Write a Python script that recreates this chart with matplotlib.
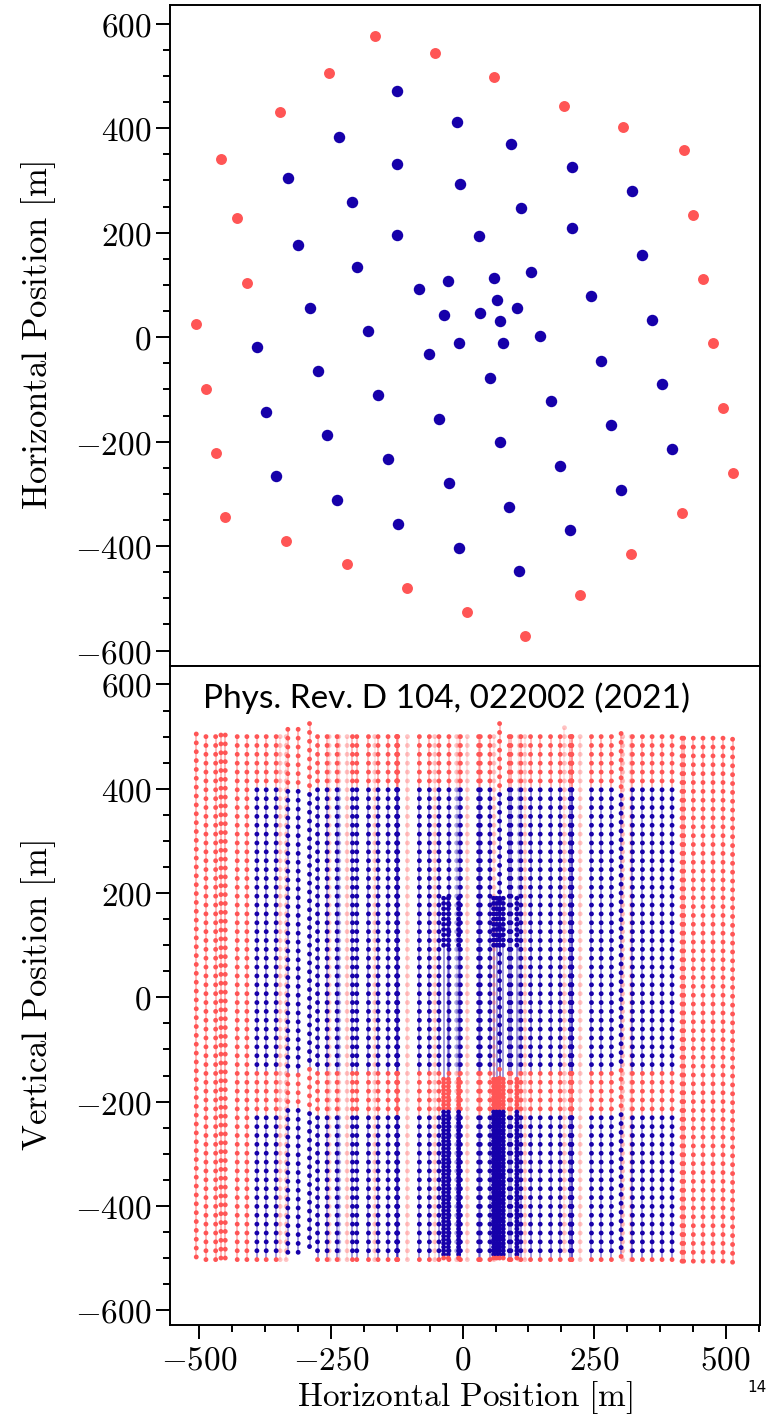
import numpy as np
import matplotlib.pyplot as plt
from matplotlib.collections import LineCollection
from matplotlib.ticker import MultipleLocator, AutoMinorLocator, FuncFormatter

plt.rcParams["mathtext.fontset"] = "cm"
plt.rcParams["font.family"] = "serif"

RED = "#ff5555"
BLUE = "#1600aa"

# ------------------------------------------------------------
# String positions [m]
# ------------------------------------------------------------

# outer (veto) strings
outer_x = [-167.0, -53.1, -253.7, -346.7, -459.2, -428.3, -409.9, -506.1,
           59.4, 193.5, 304.2, 419.9, 438.3, 456.7,
           -487.7, -469.3, -451.0, -335.3, -219.5, -104.9, 8.9,
           475.7, 494.7, 512.9, 416.9, 320.1, 223.3, 118.2]
outer_y = [576.4, 543.8, 506.0, 431.3, 340.6, 227.5, 103.5, 24.9,
           498.9, 442.2, 403.1, 357.9, 234.4, 111.2,
           -98.3, -221.0, -345.0, -389.7, -435.1, -480.5, -526.5,
           -12.1, -136.1, -259.3, -337.4, -415.4, -493.2, -571.2]
outer_top_z = [500, 500, 500, 500, 503, 500, 500, 505,
               500, 517, 500, 497, 497, 497,
               500, 500, 503, 500, 500, 500, 500,
               497, 497, 495, 497, 500, 500, 500]

# inner standard strings
inner_x = [-125.2, -11.4, -235.3, -125.2, -4.2, -332.1, -209.3, -124.7, -312.5, -201.1,
           -82.2, -290.9, -178.9, 91.7, 207.4, 322.6, 110.6, 207.4, 30.4, 341.6,
           129.0, 244.8, 33.6, 360.0, 147.4, -390.9, -63.2, -275.7, -160.7, -373.2,
           -45.0, -257.5, -141.7, -354.3, -26.0, -238.5, -123.3, -6.6, 263.2, 51.8,
           378.9, 167.0, 282.7, 70.2, 397.9, 185.4, 301.1, 88.6, 204.4, 107.6]
inner_y = [472.1, 411.5, 383.4, 331.0, 292.7, 304.8, 258.8, 195.5, 176.3, 133.6,
           91.4, 56.2, 12.5, 370.5, 325.3, 279.9, 247.3, 208.9, 193.6, 156.6,
           124.0, 78.0, 46.0, 33.2, 1.9, -19.7, -32.6, -65.2, -110.6, -143.2,
           -155.8, -187.8, -233.8, -266.4, -279.3, -311.9, -357.1, -402.9, -44.7, -78.6,
           -90.1, -122.7, -168.1, -200.7, -213.3, -246.7, -292.7, -324.5, -369.9, -448.0]
inner_top_z = [500, 500, 500, 500, 500, 514, 500, 500, 514, 500,
               500, 525, 500, 500, 500, 500, 500, 500, 500, 500,
               500, 500, 500, 500, 500, 500, 500, 500, 500, 500,
               500, 500, 500, 500, 500, 500, 500, 500, 500, 500,
               500, 500, 500, 525, 500, 500, 506, 500, 500, 500]

# DeepCore infill strings
deepcore_x = [-27.1, -36.1, 58.8, 64.5, 103.0, 70.2, 77.2, -7.6]
deepcore_y = [107.3, 42.2, 112.5, 71.5, 56.2, 30.7, -10.2, -10.9]

# DOM layout along a string [m]
N_DOM, DOM_SPACING = 60, 17.0
DC_UPPER_TOP, DC_UPPER_N, DC_UPPER_SPACING = 190.0, 10, 10.0
DC_LOWER_TOP, DC_LOWER_N, DC_LOWER_SPACING = -157.0, 50, 7.0

# fiducial cuts (z) used to colour the DOMs
Z_TOP_CUT = 400.0
Z_BOTTOM_CUT = -495.0
DUST_LAYER = (-215.0, -135.0)


def standard_doms(top_z):
    return top_z - DOM_SPACING * np.arange(N_DOM)


def deepcore_doms():
    upper = DC_UPPER_TOP - DC_UPPER_SPACING * np.arange(DC_UPPER_N)
    lower = DC_LOWER_TOP - DC_LOWER_SPACING * np.arange(DC_LOWER_N)
    return np.concatenate([upper, lower])


def dom_colours(z, inner):
    if not inner:
        return [RED] * len(z)
    cols = []
    for zz in z:
        inside = (Z_BOTTOM_CUT < zz < Z_TOP_CUT) and not (DUST_LAYER[0] < zz < DUST_LAYER[1])
        cols.append(BLUE if inside else RED)
    return cols


def draw_string(ax, x, y, z, inner):
    cols = dom_colours(z, inner)
    alpha = 0.35 if abs(y) > 375 else 1.0
    xs = np.full_like(z, x, dtype=float)
    pts = np.column_stack([xs, z])
    segs = np.stack([pts[:-1], pts[1:]], axis=1)
    lc = LineCollection(segs, colors=cols[:-1], linewidths=1.1, alpha=0.5 * alpha)
    ax.add_collection(lc)
    ax.scatter(xs, z, c=cols, s=12, linewidths=0, alpha=alpha, zorder=3)


fig = plt.figure(figsize=(7.68, 14.22), dpi=100)
ax_top = fig.add_axes([170 / 768, 1 - 665.7 / 1422, 590 / 768, 660.7 / 1422])
ax_bot = fig.add_axes([170 / 768, 1 - 1325.3 / 1422, 590 / 768, 659.6 / 1422], sharex=ax_top)

# ------------------------------------------------------------
# Top panel: string layout
# ------------------------------------------------------------
ax_top.scatter(outer_x, outer_y, s=62, c=RED, linewidths=0)
ax_top.scatter(inner_x + deepcore_x, inner_y + deepcore_y, s=68, c=BLUE, linewidths=0)

# ------------------------------------------------------------
# Bottom panel: DOM depths
# ------------------------------------------------------------
for x, y, tz in zip(outer_x, outer_y, outer_top_z):
    draw_string(ax_bot, x, y, standard_doms(tz), inner=False)
for x, y, tz in zip(inner_x, inner_y, inner_top_z):
    draw_string(ax_bot, x, y, standard_doms(tz), inner=True)
for x, y in zip(deepcore_x, deepcore_y):
    draw_string(ax_bot, x, y, deepcore_doms(), inner=True)

ax_bot.text(0.056, 0.951, "Phys. Rev. D 104, 022002 (2021)", transform=ax_bot.transAxes,
            ha="left", va="center", fontsize=24, family="Lato")

# ------------------------------------------------------------
# Axes styling
# ------------------------------------------------------------
tick_fmt = FuncFormatter(lambda v, pos: rf"${v:g}$")

for ax in (ax_top, ax_bot):
    ax.set_xlim(-556, 565)
    ax.set_ylim(-629, 636)
    ax.yaxis.set_major_locator(MultipleLocator(200))
    ax.yaxis.set_minor_locator(AutoMinorLocator(4))
    ax.xaxis.set_major_locator(MultipleLocator(250))
    ax.xaxis.set_minor_locator(AutoMinorLocator(4))
    ax.yaxis.set_major_formatter(tick_fmt)
    ax.xaxis.set_major_formatter(tick_fmt)
    ax.tick_params(which="major", direction="out", length=10, width=1.4, labelsize=24)
    ax.tick_params(which="minor", direction="out", length=5, width=1.4)
    for sp in ax.spines.values():
        sp.set_linewidth(1.4)

ax_top.tick_params(axis="x", which="both", bottom=False, labelbottom=False)

ax_top.set_ylabel(r"$\mathrm{Horizontal\ Position\ [m]}$", fontsize=25)
ax_bot.set_ylabel(r"$\mathrm{Vertical\ Position\ [m]}$", fontsize=25)
ax_bot.set_xlabel(r"$\mathrm{Horizontal\ Position\ [m]}$", fontsize=24, labelpad=2)
ax_top.yaxis.set_label_coords(-0.19, 0.5)
ax_bot.yaxis.set_label_coords(-0.19, 0.5)

fig.text(757 / 768, 1 - 1388 / 1422, "14", ha="center", va="center",
         fontsize=11, family="DejaVu Sans")

fig.savefig("out.png", dpi=100)
